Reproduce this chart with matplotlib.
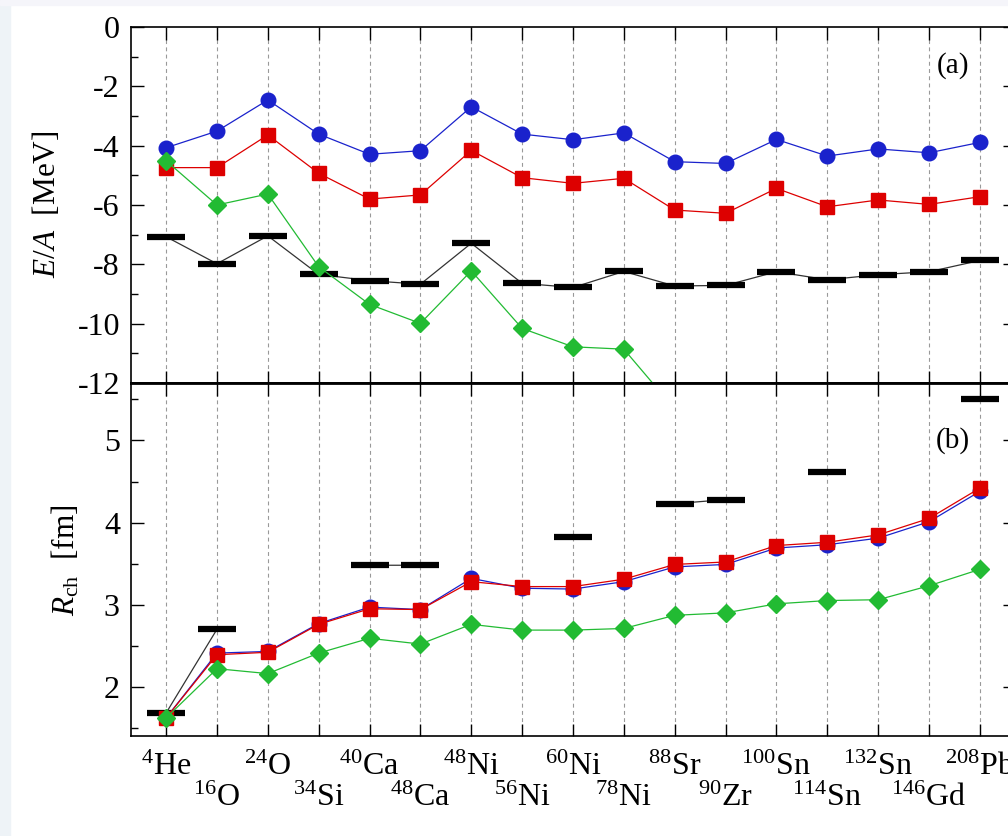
import numpy as np
import matplotlib
matplotlib.use("Agg")
import matplotlib.pyplot as plt
from matplotlib.ticker import MultipleLocator, FixedLocator
from matplotlib.patches import Rectangle

plt.rcParams["font.family"] = ["Liberation Serif", "DejaVu Serif"]
plt.rcParams["mathtext.fontset"] = "custom"
plt.rcParams["mathtext.rm"] = "Liberation Serif"
plt.rcParams["mathtext.it"] = "Liberation Serif:italic"
plt.rcParams["axes.unicode_minus"] = False

# nuclei along the x axis
nuclei = [r"$^{4}$He", r"$^{16}$O", r"$^{24}$O", r"$^{34}$Si", r"$^{40}$Ca",
          r"$^{48}$Ca", r"$^{48}$Ni", r"$^{56}$Ni", r"$^{60}$Ni", r"$^{78}$Ni",
          r"$^{88}$Sr", r"$^{90}$Zr", r"$^{100}$Sn", r"$^{114}$Sn", r"$^{132}$Sn",
          r"$^{146}$Gd", r"$^{208}$Pb"]

# (a) binding energy per nucleon [MeV]
ea_blue = [-4.07, -3.51, -2.46, -3.61, -4.29, -4.17, -2.69, -3.61, -3.80, -3.57,
           -4.54, -4.60, -3.79, -4.35, -4.11, -4.24, -3.89]
ea_red = [-4.74, -4.74, -3.64, -4.93, -5.80, -5.66, -4.16, -5.08, -5.27, -5.10,
          -6.17, -6.28, -5.44, -6.06, -5.83, -5.98, -5.72]
ea_green = [-4.51, -6.00, -5.63, -8.08, -9.35, -9.99, -8.22, -10.16, -10.78, -10.86,
            -12.88, np.nan, np.nan, np.nan, np.nan, np.nan, np.nan]
ea_exp = [-7.07, -7.98, -7.04, -8.34, -8.55, -8.67, -7.29, -8.64, -8.78, -8.24,
          -8.73, -8.71, -8.25, -8.52, -8.35, -8.25, -7.87]

# (b) charge radius [fm]
r_blue = [1.62, 2.41, 2.43, 2.77, 2.97, 2.94, 3.32, 3.20, 3.19, 3.28,
          3.46, 3.49, 3.69, 3.73, 3.81, 4.01, 4.38]
r_red = [1.62, 2.39, 2.42, 2.76, 2.95, 2.94, 3.28, 3.22, 3.22, 3.31,
         3.49, 3.52, 3.72, 3.76, 3.85, 4.05, 4.42]
r_green = [1.62, 2.22, 2.16, 2.41, 2.59, 2.52, 2.76, 2.69, 2.69, 2.71,
           2.87, 2.90, 3.01, 3.05, 3.06, 3.23, 3.43]
r_exp = [1.68, 2.70, np.nan, np.nan, 3.48, 3.48, np.nan, np.nan, 3.82, np.nan,
         4.23, 4.28, np.nan, 4.61, np.nan, np.nan, 5.51]

x = np.arange(len(nuclei))

fig = plt.figure(figsize=(10.08, 8.36), dpi=100)
fig.patches.append(Rectangle((0, 0), 10 / 1008, 1, transform=fig.transFigure,
                             color="#eef3f7", zorder=-10))
fig.patches.append(Rectangle((0, 1 - 5 / 836), 1, 5 / 836, transform=fig.transFigure,
                             color="#f5f5fa", zorder=-10))

ax1 = fig.add_axes([131 / 1008, 1 - 383 / 836, 884 / 1008, 356 / 836])
ax2 = fig.add_axes([131 / 1008, 1 - 736 / 836, 884 / 1008, 353 / 836])

blue, red, green = "#1a22cc", "#dd0000", "#22bb33"


def draw(ax, b, r, g, e):
    for xi in x:
        ax.axvline(xi, color="#999999", ls=(0, (3.5, 3)), lw=0.8, zorder=0)
    ax.plot(x, e, "-", color="#333333", lw=0.9, zorder=2)
    ax.plot(x, e, "_", color="black", ms=28, mew=4.5, zorder=2, ls="none")
    ax.plot(x, b, "-o", color=blue, lw=0.9, ms=10.5, zorder=3, mfc=blue, mec=blue)
    ax.plot(x, r, "-s", color=red, lw=0.9, ms=10, zorder=4, mfc=red, mec=red)
    ax.plot(x, g, "-D", color=green, lw=0.9, ms=8.7, zorder=5, mfc=green, mec=green)
    ax.set_xlim(-0.69, 16.69)
    ax.xaxis.set_major_locator(FixedLocator(x))
    ax.tick_params(axis="both", which="both", direction="in", top=True, right=True,
                   labelbottom=False, labelsize=23, width=1.0)
    ax.tick_params(axis="both", which="major", length=9)
    ax.tick_params(axis="y", which="minor", length=5)
    ax.tick_params(axis="y", pad=8)
    for s in ax.spines.values():
        s.set_linewidth(1.2)


draw(ax1, ea_blue, ea_red, ea_green, ea_exp)
ax1.set_ylim(-12, 0)
ax1.yaxis.set_major_locator(MultipleLocator(2))
ax1.yaxis.set_minor_locator(MultipleLocator(1))
ax1.spines["bottom"].set_linewidth(2.0)
ax1.text(0.93, 0.893, "(a)", transform=ax1.transAxes, fontsize=21, ha="center", va="center")

draw(ax2, r_blue, r_red, r_green, r_exp)
ax2.set_ylim(1.4, 5.7)
ax2.yaxis.set_major_locator(MultipleLocator(1))
ax2.yaxis.set_minor_locator(MultipleLocator(0.5))
ax2.spines["top"].set_linewidth(2.0)
ax2.text(0.93, 0.838, "(b)", transform=ax2.transAxes, fontsize=21, ha="center", va="center")

# two staggered rows of nucleus labels
for i, lab in enumerate(nuclei):
    yrow = -0.088 if i % 2 == 0 else -0.176
    ax2.text(i, yrow, lab, transform=ax2.get_xaxis_transform(), fontsize=23,
             ha="center", va="center")

fig.text(47 / 1008, 1 - 204 / 836, r"$E/A$  [MeV]", rotation=90, fontsize=22.5,
         ha="center", va="center")
fig.text(66 / 1008, 1 - 560 / 836, r"$R_{\rm ch}$  [fm]", rotation=90, fontsize=22.5,
         ha="center", va="center")

fig.savefig("out.png", dpi=100)
